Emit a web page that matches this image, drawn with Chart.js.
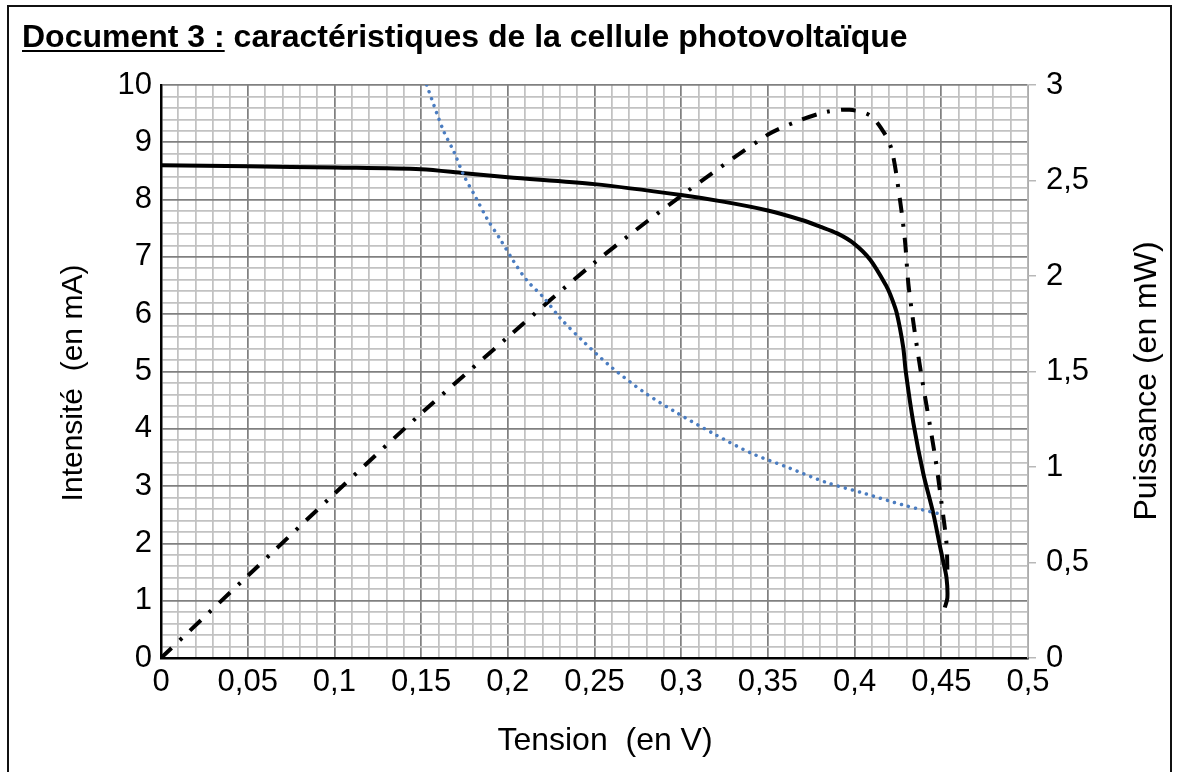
<!DOCTYPE html>
<html>
<head>
<meta charset="utf-8">
<script src="https://cdn.jsdelivr.net/npm/chart.js@4.4.0/dist/chart.umd.min.js"></script>
<style>
    html, body { margin: 0; padding: 0; background: #fff; }
    body { width: 1178px; height: 772px; position: relative; overflow: hidden; font-family: "Liberation Sans", Arial, sans-serif; }
    #frame { position: absolute; left: 7px; top: 5px; width: 1161px; height: 820px; border: 2px solid #111; pointer-events: none; }
    #title { position: absolute; left: 22px; top: 17px; font-size: 32px; line-height: 38px; font-weight: bold; color: #000; white-space: nowrap; }
    #title u { text-decoration-thickness: 2px; text-underline-offset: 3px; }
    #wrap { position: absolute; left: 0; top: 0; width: 1178px; height: 772px; }
</style>
</head>
<body>
<div id="wrap"><canvas id="cellChart"></canvas></div>
<div id="frame"></div>
<div id="title"><u>Document 3 :</u> caractéristiques de la cellule photovoltaïque</div>

<script>
// caractéristique I = f(U)
const tensionI = [0, 0.05, 0.1, 0.15, 0.175, 0.2, 0.25, 0.3, 0.325, 0.35, 0.37, 0.38, 0.39, 0.3993, 0.409, 0.4185, 0.4214, 0.4243, 0.428, 0.4295, 0.4339, 0.4396, 0.4454, 0.4493, 0.451, 0.453, 0.4535, 0.452];
const intensite = [8.6, 8.58, 8.56, 8.53, 8.46, 8.39, 8.27, 8.08, 7.96, 7.81, 7.64, 7.53, 7.41, 7.24, 6.95, 6.48, 6.28, 6.02, 5.43, 5.0, 4.10, 3.22, 2.52, 1.94, 1.70, 1.40, 1.05, 0.88];

// caractéristique P = f(U), axe de droite
const tensionP = [0, 0.05, 0.1, 0.15, 0.2, 0.25, 0.3, 0.35, 0.367, 0.384, 0.397, 0.409, 0.4177, 0.4217, 0.426, 0.429, 0.431, 0.434, 0.438, 0.4465, 0.45, 0.453, 0.4535];
const puissance = [0, 0.43, 0.86, 1.28, 1.68, 2.07, 2.42, 2.74, 2.81, 2.86, 2.87, 2.84, 2.74, 2.65, 2.41, 2.19, 1.96, 1.75, 1.51, 1.05, 0.82, 0.60, 0.46];

// courbe en pointillés bleus
const tensionB = [0.1532, 0.1628, 0.169, 0.1745, 0.1815, 0.188, 0.196, 0.203, 0.211, 0.221, 0.23, 0.243, 0.26, 0.279, 0.298, 0.319, 0.34, 0.362, 0.384, 0.406, 0.428, 0.451];
const courbeB = [10.0, 9.21, 8.83, 8.43, 8.04, 7.67, 7.29, 6.94, 6.59, 6.28, 5.94, 5.54, 5.07, 4.63, 4.27, 3.91, 3.58, 3.32, 3.06, 2.87, 2.67, 2.50];

const titreX = 'Tension  (en V)';
const titreY = 'Intensité  (en mA)';
const titreY2 = 'Puissance (en mW)';

const fmt = v => String(+v.toFixed(2)).replace('.', ',');
const toPoints = (xs, ys) => xs.map((x, i) => ({x: x, y: ys[i]}));

const FONT = "'Liberation Sans', Arial, sans-serif";
const MINOR = '#c2c2c2';
const MAJOR = '#808080';

// titres des axes placés à la main (le titre de droite se lit de bas en haut)
const axisTitles = {
    id: 'axisTitles',
    afterDraw(chart) {
        const ctx = chart.ctx;
        ctx.save();
        ctx.fillStyle = '#000';
        ctx.textAlign = 'center';
        ctx.textBaseline = 'alphabetic';
        ctx.font = '32px ' + FONT;
        ctx.fillText(titreX, 605, 750);

        ctx.save();
        ctx.translate(82, 383);
        ctx.rotate(-Math.PI / 2);
        ctx.font = '30px ' + FONT;
        ctx.fillText(titreY, 0, 0);
        ctx.restore();

        ctx.translate(1156, 381);
        ctx.rotate(-Math.PI / 2);
        ctx.font = '32px ' + FONT;
        ctx.fillText(titreY2, 0, 0);
        ctx.restore();
    }
};

document.addEventListener('DOMContentLoaded', () => {
    const canvas = document.getElementById('cellChart');
    new Chart(canvas, {
        type: 'scatter',
        data: {
            datasets: [
                {
                    data: toPoints(tensionB, courbeB),
                    yAxisID: 'y',
                    showLine: true,
                    borderColor: '#4a7cc0',
                    borderWidth: 3.5,
                    borderDash: [0.01, 7.3],
                    borderCapStyle: 'round',
                    tension: 0.3,
                    pointRadius: 0
                },
                {
                    data: toPoints(tensionI, intensite),
                    yAxisID: 'y',
                    showLine: true,
                    borderColor: '#000',
                    borderWidth: 4,
                    tension: 0.3,
                    pointRadius: 0
                },
                {
                    data: toPoints(tensionP, puissance),
                    yAxisID: 'y2',
                    showLine: true,
                    borderColor: '#000',
                    borderWidth: 4,
                    borderDash: [15, 11, 3, 11],
                    tension: 0.3,
                    pointRadius: 0
                }
            ]
        },
        options: {
            responsive: true,
            maintainAspectRatio: false,
            animation: false,
            layout: { padding: { top: 85, left: 0, right: 0, bottom: 0 } },
            plugins: { legend: { display: false }, tooltip: { enabled: false } },
            scales: {
                x: {
                    type: 'linear',
                    min: 0,
                    max: 0.5,
                    afterFit: s => { s.height = 772 - 658; },
                    ticks: {
                        stepSize: 0.01,
                        autoSkip: false,
                        maxRotation: 0,
                        padding: 6,
                        color: '#000',
                        font: { family: FONT, size: 31 },
                        callback: v => Math.round(v * 100) % 5 === 0 ? fmt(v) : ''
                    },
                    grid: {
                        drawTicks: false,
                        lineWidth: 1.75,
                        color: c => Math.round(c.tick.value * 100) % 5 === 0 ? MAJOR : MINOR
                    },
                    border: { color: '#000', width: 2.5 }
                },
                y: {
                    position: 'left',
                    min: 0,
                    max: 10,
                    afterFit: s => { s.width = 161; },
                    ticks: {
                        stepSize: 0.2,
                        autoSkip: false,
                        padding: 9,
                        color: '#000',
                        font: { family: FONT, size: 31 },
                        callback: v => Math.round(v * 10) % 10 === 0 ? fmt(v) : ''
                    },
                    grid: {
                        drawTicks: false,
                        lineWidth: 1.75,
                        color: c => Math.round(c.tick.value * 10) % 10 === 0 ? MAJOR : MINOR
                    },
                    border: { color: '#000', width: 2.5 }
                },
                y2: {
                    position: 'right',
                    min: 0,
                    max: 3,
                    afterFit: s => { s.width = 1178 - 1028; },
                    ticks: {
                        stepSize: 0.5,
                        padding: 10,
                        color: '#000',
                        font: { family: FONT, size: 31 },
                        callback: v => fmt(v)
                    },
                    grid: {
                        drawOnChartArea: false,
                        drawTicks: true,
                        tickLength: 8,
                        lineWidth: 1.5,
                        color: '#b8b8b8'
                    },
                    border: { color: '#b8b8b8', width: 1.5 }
                }
            }
        },
        plugins: [axisTitles]
    });
});
</script>
</body>
</html>
